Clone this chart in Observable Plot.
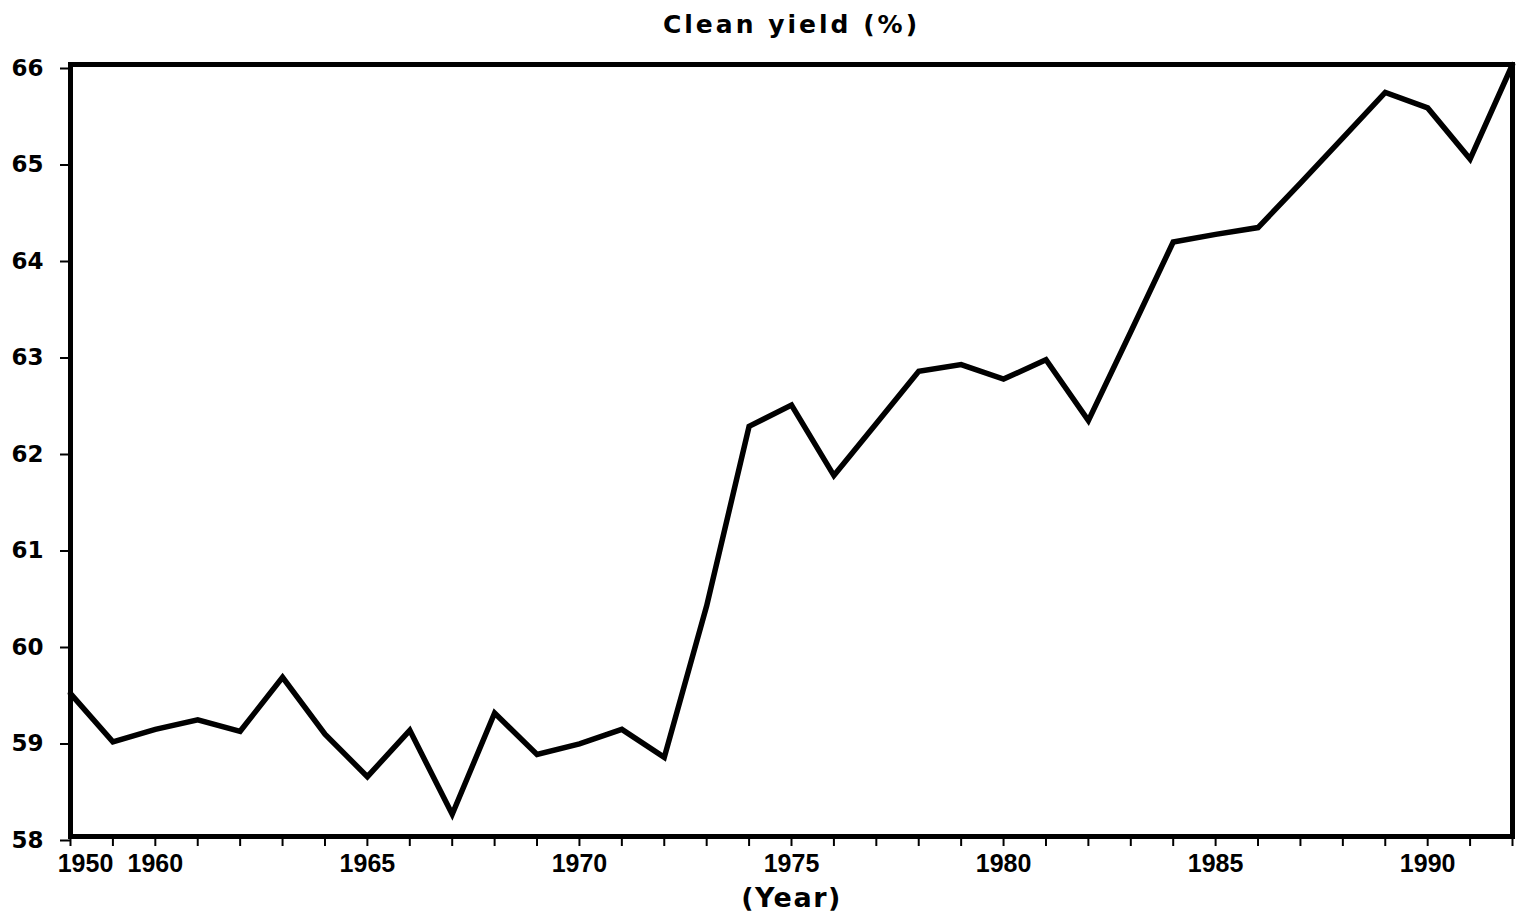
<!DOCTYPE html>
<html><head><meta charset="utf-8">
<script src="https://cdn.jsdelivr.net/npm/d3@7"></script>
<script src="https://cdn.jsdelivr.net/npm/@observablehq/plot@0.6"></script>
<style>body{margin:0;background:#fff}</style>
</head><body><div id="chart"></div>
<script>
const years = [1958,1959,1960,1961,1962,1963,1964,1965,1966,1967,1968,1969,1970,1971,1972,1973,1974,1975,1976,1977,1978,1979,1980,1981,1982,1983,1984,1985,1986,1987,1988,1989,1990,1991,1992];
const cleanYield = [59.48,58.98,59.11,59.21,59.09,59.65,59.06,58.62,59.10,58.23,59.28,58.85,58.96,59.11,58.82,60.39,62.25,62.47,61.74,62.28,62.82,62.89,62.74,62.94,62.31,63.23,64.16,64.24,64.31,64.77,65.24,65.71,65.55,65.02,66.0];
const yTicks = [58,59,60,61,62,63,64,65,66];
const xTickYears = [1958,1960,1965,1970,1975,1980,1985,1990];
const xTickLabels = ["1950","1960","1965","1970","1975","1980","1985","1990"];
const titleText = "Clean yield (%)";
const xLabelText = "(Year)";

const data = years.map((year, i) => ({year, value: cleanYield[i]}));
const labelOf = new Map(xTickYears.map((y, i) => [y, xTickLabels[i]]));

const chart = Plot.plot({
  width: 1523, height: 921,
  marginLeft: 70, marginRight: 11, marginTop: 64, marginBottom: 85,
  style: {background: "#fff", color: "#000", overflow: "visible"},
  x: {domain: [1958, 1992]},
  y: {domain: [58, 66]},
  marks: [
    Plot.axisX(years, {label: null, tickSize: 10, strokeWidth: 2, tickFormat: () => ""}),
    Plot.axisX(xTickYears.slice(0, 1), {label: null, tickSize: 0, tickPadding: 18, dx: 15, tickFormat: d => labelOf.get(d), fontSize: 25, fontWeight: "bold", fontFamily: "Liberation Sans, Arial, sans-serif"}),
    Plot.axisX(xTickYears.slice(1), {label: null, tickSize: 0, tickPadding: 18, tickFormat: d => labelOf.get(d), fontSize: 25, fontWeight: "bold", fontFamily: "Liberation Sans, Arial, sans-serif"}),
    Plot.axisY(yTicks, {label: null, tickSize: 10, tickPadding: 17, strokeWidth: 2, dy: 4, tickFormat: d => String(d), fontSize: 23, fontWeight: "bold", fontFamily: "DejaVu Sans, sans-serif"}),
    Plot.frame({strokeWidth: 5}),
    Plot.line(data, {x: "year", y: "value", strokeWidth: 5.5, strokeLinejoin: "miter", strokeMiterlimit: 3}),
    Plot.text([titleText], {frameAnchor: "top", dy: -40, lineAnchor: "middle", fontSize: 25, fontWeight: "bold", fontFamily: "DejaVu Sans, sans-serif", fill: "#000"}),
    Plot.text([xLabelText], {frameAnchor: "bottom", dy: 62, lineAnchor: "middle", fontSize: 27, fontWeight: "bold", fontFamily: "DejaVu Sans, sans-serif", fill: "#000"})
  ]
});
document.getElementById("chart").appendChild(chart);
d3.select(chart).selectAll("text").each(function() {
  const t = this.textContent;
  if (t === titleText) d3.select(this).attr("letter-spacing", 3);
  if (t === xLabelText) d3.select(this).attr("letter-spacing", 1.5);
});
</script>
</body></html>
